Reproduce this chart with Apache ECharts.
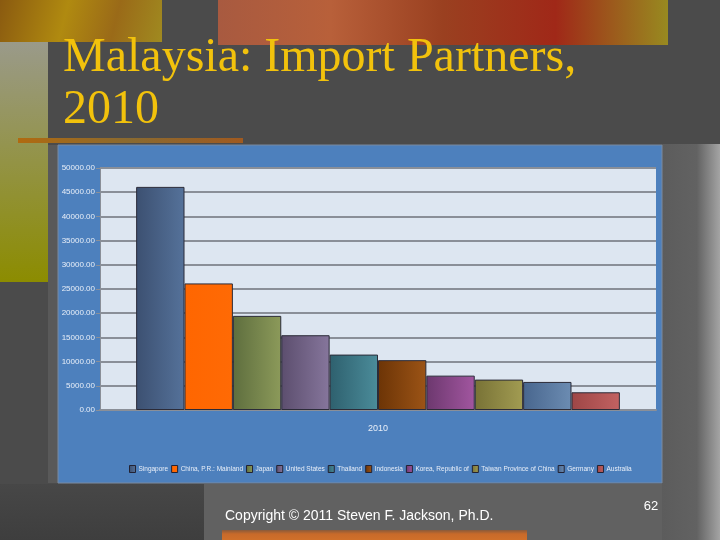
<!DOCTYPE html>
<html>
<head>
<meta charset="utf-8">
<script src="https://cdn.jsdelivr.net/npm/echarts@6/dist/echarts.min.js"></script>
<style>html,body{margin:0;padding:0;background:#4b4b4b;}#c{width:720px;height:540px;}</style>
</head>
<body>
<div id="c"></div>
<script>
// ---- data ----
var categories = ['2010'];
var partners = ['Singapore', 'China, P.R.: Mainland', 'Japan', 'United States', 'Thailand', 'Indonesia', 'Korea, Republic of', 'Taiwan Province of China', 'Germany', 'Australia'];
var values = [46100, 26150, 19450, 15450, 11450, 10300, 7100, 6280, 5800, 3660];
var yTicks = [0, 5000, 10000, 15000, 20000, 25000, 30000, 35000, 40000, 45000, 50000];
var titleLines = ['Malaysia: Import Partners,', '2010'];

// ---- styles ----
var barColors = [
  ['#3c5071', '#55729a'],
  ['#ff6600', '#ff6a05'],
  ['#5e6e3e', '#8c9a5a'],
  ['#5c4e6e', '#86769c'],
  ['#2e606e', '#4b8c9a'],
  ['#6c3406', '#9c5416'],
  ['#6c386e', '#a256a0'],
  ['#787236', '#a29c52'],
  ['#48668e', '#6c8cb2'],
  ['#9e4646', '#c26262']
];
var narrow = '"Liberation Sans Narrow", "Arial Narrow", "Liberation Sans", Arial, sans-serif';

var chart = echarts.init(document.getElementById('c'), null, {renderer: 'canvas'});

var series = partners.map(function (name, i) {
  return {
    name: name,
    type: 'bar',
    barGap: '0%',
    barCategoryGap: '13%',
    data: [values[i]],
    itemStyle: {
      color: new echarts.graphic.LinearGradient(0, 0, 1, 0, [
        {offset: 0, color: barColors[i][0]},
        {offset: 1, color: barColors[i][1]}
      ]),
      borderColor: '#2b2b38',
      borderWidth: 1
    }
  };
});

var option = {
  backgroundColor: '#4b4b4b',
  animation: false,
  color: barColors.map(function (c) { return c[1]; }),
  graphic: [
    // top decorative image strips
    {type: 'rect', shape: {x: 0, y: 0, width: 162, height: 42}, z: -10,
      style: {fill: new echarts.graphic.LinearGradient(0, 0, 1, 1, [
        {offset: 0, color: '#8a5a10'}, {offset: 0.4, color: '#b08a10'}, {offset: 0.7, color: '#9a6a18'}, {offset: 1, color: '#a08a20'}])}},
    {type: 'rect', shape: {x: 218, y: 0, width: 450, height: 45}, z: -10,
      style: {fill: new echarts.graphic.LinearGradient(0, 0, 1, 0, [
        {offset: 0, color: '#a85a40'}, {offset: 0.25, color: '#b8603a'}, {offset: 0.5, color: '#9a4020'},
        {offset: 0.75, color: '#a02818'}, {offset: 1, color: '#988a20'}])}},
    // left strip
    {type: 'rect', shape: {x: 0, y: 42, width: 48, height: 240}, z: -10,
      style: {fill: new echarts.graphic.LinearGradient(0, 0, 0, 1, [
        {offset: 0, color: '#9a9a8a'}, {offset: 1, color: '#8c8c00'}])}},
    // mid gray zone
    {type: 'rect', shape: {x: 48, y: 145, width: 10, height: 338}, z: -10, style: {fill: '#595959'}},
    // thin decorative strip
    {type: 'rect', shape: {x: 18, y: 138, width: 225, height: 5}, z: -10,
      style: {fill: new echarts.graphic.LinearGradient(0, 0, 1, 0, [
        {offset: 0, color: '#b06a10'}, {offset: 0.5, color: '#8a6a30'}, {offset: 1, color: '#a05a20'}])}},
    // right strip
    {type: 'rect', shape: {x: 662, y: 144, width: 58, height: 396}, z: -10,
      style: {fill: new echarts.graphic.LinearGradient(0, 0, 1, 0, [
        {offset: 0, color: '#5c5c5c'}, {offset: 0.6, color: '#626262'}, {offset: 1, color: '#a4a4a4'}])}},
    // bottom area
    {type: 'rect', shape: {x: 204, y: 484, width: 458, height: 56}, z: -10, style: {fill: '#616161'}},
    {type: 'rect', shape: {x: 0, y: 484, width: 204, height: 56}, z: -10,
      style: {fill: new echarts.graphic.LinearGradient(0, 0, 0, 1, [
        {offset: 0, color: '#474747'}, {offset: 1, color: '#3e3e3e'}])}},
    // bottom orange bar
    {type: 'rect', shape: {x: 222, y: 530, width: 305, height: 10}, z: -10,
      style: {fill: new echarts.graphic.LinearGradient(0, 0, 0, 1, [
        {offset: 0, color: '#8a5a3a'}, {offset: 0.4, color: '#c86a2a'}, {offset: 1, color: '#d0702a'}])}},
    // chart panel
    {type: 'rect', shape: {x: 58, y: 145, width: 604, height: 338}, z: -9,
      style: {fill: '#4d80bd', stroke: '#7a8aa0', lineWidth: 1}},
    // footer texts
    {type: 'text', x: 225, y: 516, z: 5,
      style: {text: 'Copyright \u00a9 2011 Steven F. Jackson, Ph.D.', fill: '#ffffff', font: '14px "Liberation Sans", Arial, sans-serif', textVerticalAlign: 'middle'}},
    {type: 'text', x: 651, y: 506, z: 5,
      style: {text: '62', fill: '#ffffff', font: '13px "Liberation Sans", Arial, sans-serif', textAlign: 'center', textVerticalAlign: 'middle'}}
  ],
  title: {
    text: titleLines.join('\n'),
    left: 58,
    top: 27,
    textStyle: {
      fontFamily: '"Liberation Serif", "DejaVu Serif", serif',
      fontSize: 48,
      fontWeight: 'normal',
      color: '#f2c20c',
      lineHeight: 52
    }
  },
  legend: {
    data: partners,
    left: 124,
    top: 460,
    itemWidth: 6,
    itemHeight: 7,
    itemGap: 3,
    icon: 'rect',
    itemStyle: {borderColor: '#222233', borderWidth: 1},
    textStyle: {color: '#e8eef8', fontSize: 6.5, fontFamily: narrow, padding: [0, 0, 0, -2]}
  },
  grid: {
    left: 100,
    top: 168,
    width: 556,
    height: 242,
    show: true,
    backgroundColor: '#dde6f1',
    borderWidth: 0,
    containLabel: false
  },
  xAxis: {
    type: 'category',
    data: categories,
    axisLine: {show: true, lineStyle: {color: '#8a8f98', width: 2}},
    axisTick: {show: false},
    axisLabel: {color: '#e8eef8', fontSize: 9, fontFamily: narrow, margin: 14}
  },
  yAxis: {
    type: 'value',
    min: yTicks[0],
    max: yTicks[yTicks.length - 1],
    interval: yTicks[1] - yTicks[0],
    axisLine: {show: true, lineStyle: {color: '#8a8f98', width: 1}},
    axisTick: {show: true, length: 4, lineStyle: {color: '#8a8f98'}},
    splitLine: {show: true, lineStyle: {color: '#8a8f98', width: 2}},
    axisLabel: {
      color: '#e8eef8', fontSize: 8, fontFamily: narrow, margin: 5,
      formatter: function (v) { return v.toFixed(2); }
    }
  },
  series: series
};
chart.setOption(option);
</script>
</body>
</html>
